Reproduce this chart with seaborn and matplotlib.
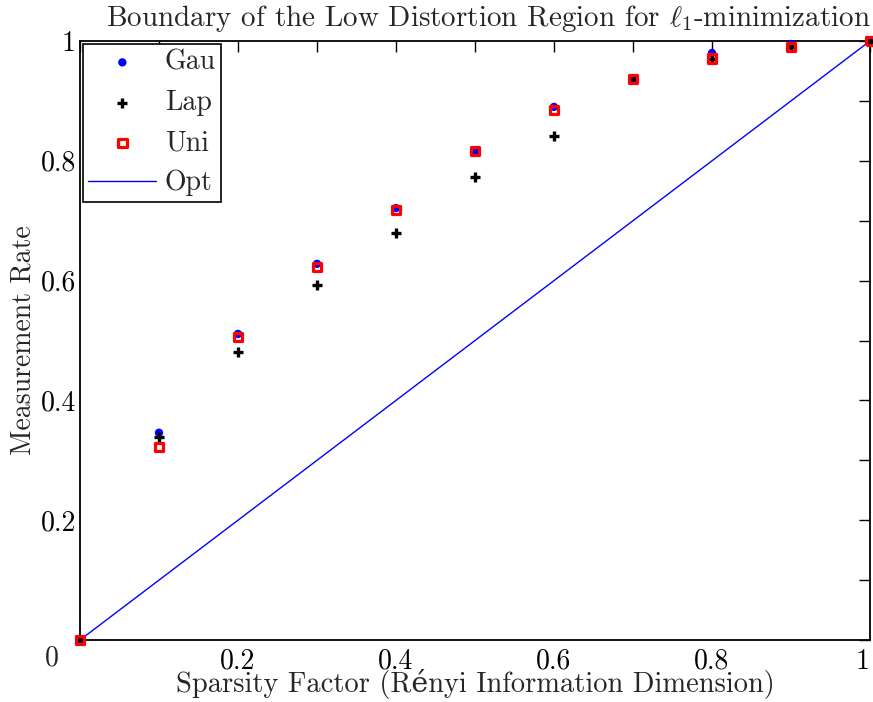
import numpy as np
import pandas as pd
import matplotlib
matplotlib.use("Agg")
import matplotlib.pyplot as plt
import seaborn as sns

# Sparsity factor (Renyi information dimension)
sparsity = [0.0, 0.1, 0.2, 0.3, 0.4, 0.5, 0.6, 0.7, 0.8, 0.9, 1.0]
# Measurement rate at the boundary of the low-distortion region
gau = [0.0, 0.346, 0.511, 0.628, 0.721, 0.816, 0.890, 0.937, 0.980, 0.995, 1.0]
lap = [0.0, 0.339, 0.481, 0.593, 0.680, 0.773, 0.842, 0.937, 0.970, 0.990, 1.0]
uni = [0.0, 0.322, 0.506, 0.623, 0.718, 0.816, 0.885, 0.937, 0.971, 0.990, 1.0]
opt_x = [0.0, 1.0]
opt_y = [0.0, 1.0]

xtick_labels = ["", "", "0.2", "", "0.4", "", "0.6", "", "0.8", "", "1"]
ytick_labels = ["", "", "0.2", "", "0.4", "", "0.6", "", "0.8", "", "1"]

sns.set_style("white")
plt.rcParams.update({
    "font.family": ["cmr10", "DejaVu Serif"],
    "mathtext.fontset": "cm",
    "axes.formatter.use_mathtext": True,
    "axes.edgecolor": "black",
    "axes.linewidth": 1.2,
})

df = pd.DataFrame({"x": sparsity, "Gau": gau, "Lap": lap, "Uni": uni})

fig = plt.figure(figsize=(8.73, 7.02), dpi=100)
ax = fig.add_axes([80 / 873, 1 - 640 / 702, 790 / 873, 599 / 702])

sns.scatterplot(data=df, x="x", y="Gau", ax=ax, color="blue", marker="o",
                s=36, edgecolor="none", label="Gau", zorder=3, clip_on=False)
ax.scatter(df["x"], df["Lap"], marker="+", s=55, color="black",
           linewidths=2.4, label="Lap", zorder=4, clip_on=False)
sns.scatterplot(data=df, x="x", y="Uni", ax=ax, marker="s", s=36,
                facecolor="none", edgecolor="red", linewidth=2.3,
                label="Uni", zorder=5, clip_on=False)
sns.lineplot(x=opt_x, y=opt_y, ax=ax, color="blue", linewidth=1.0,
             label="Opt", zorder=2)

ax.set_xlim(0, 1)
ax.set_ylim(0, 1)
ticks = np.linspace(0, 1, 11)
ax.set_xticks(ticks)
ax.set_yticks(ticks)
ax.set_xticklabels(xtick_labels)
ax.set_yticklabels(ytick_labels)
ax.tick_params(direction="in", length=8, width=1.0, top=True, right=True,
               labelsize=20, colors="black")
ax.tick_params(axis="x", pad=6)
ax.tick_params(axis="y", pad=3)
ax.get_xticklabels()[-1].set_horizontalalignment("right")
for s in ax.spines.values():
    s.set_visible(True)
    s.set_color("black")
    s.set_linewidth(1.3)

fig.text(52 / 873, 1 - 658 / 702, "0", fontsize=20, ha="center", va="center")

ax.set_xlabel("Sparsity Factor (Rényi Information Dimension)",
              fontsize=20.5, labelpad=-4)
ax.set_ylabel("Measurement Rate", fontsize=20, labelpad=3)
fig.text(489 / 873, 1 - 18 / 702,
         r"Boundary of the Low Distortion Region for $\ell_1$-minimization",
         fontsize=21, ha="center", va="center")

leg = ax.legend(loc="upper left", fontsize=20, frameon=True, fancybox=False,
                edgecolor="black", framealpha=1, borderaxespad=0.1,
                handlelength=2.45, handletextpad=0.3, scatterpoints=1,
                labelspacing=0.5, borderpad=0.2)
leg.get_frame().set_linewidth(1.2)

fig.savefig("out.png", dpi=100)
